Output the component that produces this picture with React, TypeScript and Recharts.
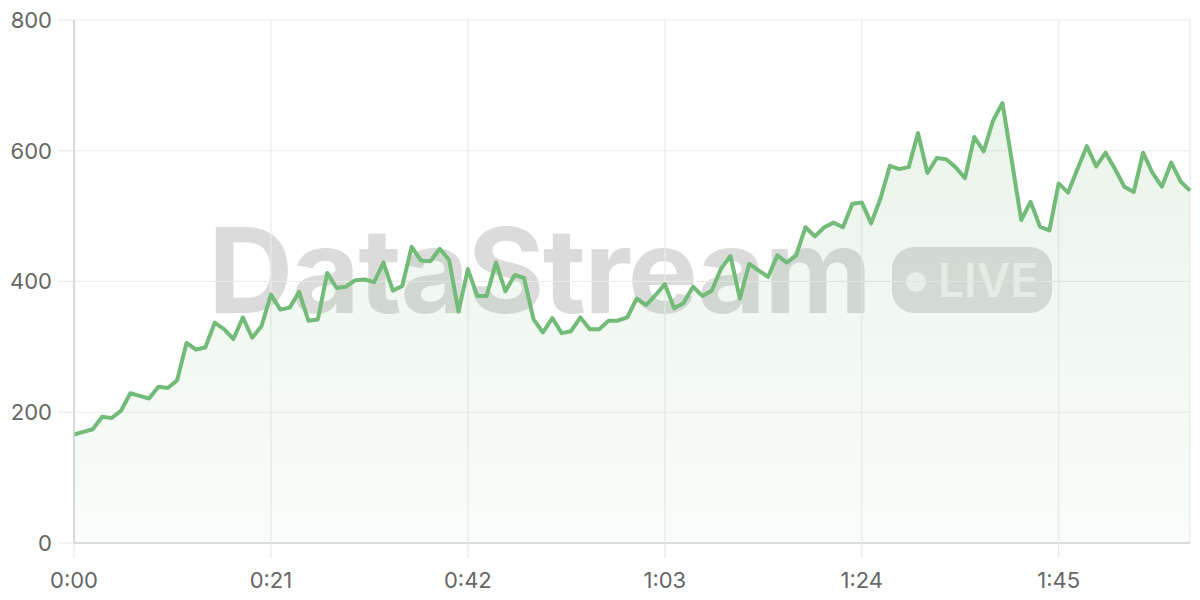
import React from "react";
import {
  AreaChart,
  Area,
  XAxis,
  YAxis,
  CartesianGrid,
} from "recharts";

const seconds: number[] = Array.from({ length: 120 }, (_, i) => i);

const viewers: number[] = [
  166, 170, 174, 193, 191, 202, 229, 225, 221, 239,
  237, 249, 306, 296, 299, 337, 327, 312, 345, 314,
  332, 380, 357, 360, 384, 340, 342, 413, 390, 392,
  402, 403, 399, 429, 386, 393, 453, 432, 431, 450,
  433, 354, 419, 378, 378, 429, 385, 410, 405, 342,
  322, 344, 321, 324, 345, 327, 327, 340, 340, 345,
  374, 364, 379, 396, 359, 367, 392, 378, 386, 420,
  439, 374, 427, 417, 407, 440, 429, 440, 483, 469,
  483, 490, 483, 519, 521, 489, 527, 577, 572, 575,
  627, 566, 589, 587, 575, 558, 621, 599, 646, 673,
  585, 494, 522, 484, 478, 550, 536, 572, 607, 576,
  597, 572, 545, 537, 597, 566, 545, 582, 553, 539,
];

const xTicks: number[] = [0, 21, 42, 63, 84, 105];
const yTicks: number[] = [0, 200, 400, 600, 800];

const watermarkText = "DataStream";
const badgeText = "LIVE";

const data = seconds.map((t, i) => ({ t, v: viewers[i] }));

const fmt = (s: number) => {
  const m = Math.floor(s / 60);
  const r = s % 60;
  return `${m}:${r < 10 ? "0" : ""}${r}`;
};

const FONT = "Inter, 'Helvetica Neue', Arial, sans-serif";
const LINE = "#72bb78";

export default function App() {
  return (
    <div style={{ position: "absolute", left: 0, top: 0, width: 1200, height: 600, background: "#fff" }}>
      <svg
        width={1200}
        height={600}
        style={{ position: "absolute", left: 0, top: 0 }}
      >
        <text
          x={208}
          y={313}
          fontFamily={FONT}
          fontWeight={700}
          fontSize={118}
          fill="rgba(0,0,0,0.14)"
          textLength={662}
          letterSpacing={-2}
        >
          {watermarkText}
        </text>
        <rect x={892} y={247} width={160} height={66} rx={22} fill="rgba(0,0,0,0.13)" />
        <circle cx={916} cy={282} r={10} fill="rgba(255,255,255,0.65)" />
        <text
          x={938}
          y={297}
          fontFamily={FONT}
          fontWeight={600}
          fontSize={46}
          fill="rgba(255,255,255,0.65)"
        >
          {badgeText}
        </text>
      </svg>
      <div style={{ position: "absolute", left: 0, top: 0 }}>
        <AreaChart
          width={1200}
          height={600}
          data={data}
          margin={{ top: 20, right: 10, left: 0, bottom: 0 }}
        >
          <defs>
            <linearGradient id="fillG" x1="0" y1="0" x2="0" y2="1">
              <stop offset="0%" stopColor={LINE} stopOpacity={0.26} />
              <stop offset="100%" stopColor={LINE} stopOpacity={0.06} />
            </linearGradient>
          </defs>
          <CartesianGrid stroke="#ebebeb" strokeWidth={1.2} />
          <XAxis
            dataKey="t"
            type="number"
            domain={[0, 119]}
            ticks={xTicks}
            tickFormatter={fmt}
            height={57}
            tickSize={15}
            tickMargin={14}
            axisLine={{ stroke: "#d0d4d0", strokeWidth: 1.5 }}
            tickLine={{ stroke: "#e8e8e8", strokeWidth: 1.2 }}
            tick={{ fontSize: 22, fill: "#666", fontFamily: FONT }}
            interval={0}
          />
          <YAxis
            domain={[0, 800]}
            ticks={yTicks}
            width={74}
            tickSize={16}
            tickMargin={6}
            axisLine={{ stroke: "#d0d0d0", strokeWidth: 1.5 }}
            tickLine={{ stroke: "#ebebeb", strokeWidth: 1.2 }}
            tick={{ fontSize: 22, fill: "#666", fontFamily: FONT }}
            interval={0}
          />
          <Area
            type="linear"
            dataKey="v"
            stroke={LINE}
            strokeWidth={4}
            strokeLinejoin="round"
            fill="url(#fillG)"
            dot={false}
            activeDot={false}
            isAnimationActive={false}
          />
        </AreaChart>
      </div>
    </div>
  );
}
